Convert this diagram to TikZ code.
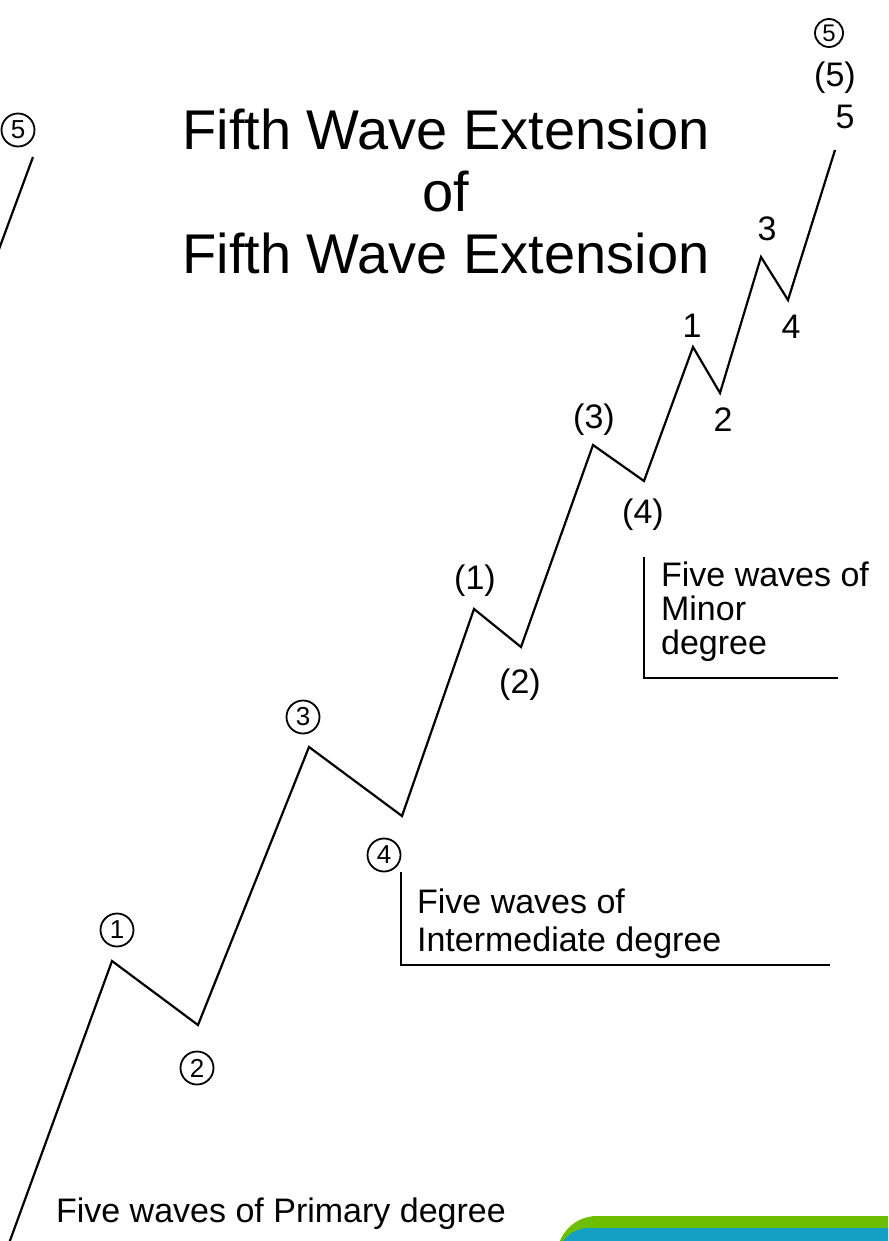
\documentclass[tikz,border=0pt]{standalone}
\usepackage{fontspec}
\setmainfont{Liberation Sans}
\usetikzlibrary{positioning}
\definecolor{bargreen}{HTML}{6EBE00}
\definecolor{barteal}{HTML}{14A0C4}

\begin{document}
\begin{tikzpicture}[x=0.5pt,y=-0.5pt,line width=1.1pt,
  lbl/.style={inner sep=0pt,font=\fontsize{17}{20}\selectfont},
  circ/.style={draw,circle,line width=0.9pt,inner sep=0pt,minimum size=16.5pt,
    font=\fontsize{13}{14}\selectfont},
  note/.style={inner sep=0pt,align=left,anchor=north west}]
  \useasboundingbox (0,0) rectangle (888,1241);
  \clip (0,0) rectangle (888,1241);
  % corner bar, bottom right
  \fill[bargreen,rounded corners=20pt] (557,1216) rectangle (960,1320);
  \fill[barteal,rounded corners=16pt] (557,1228) rectangle (960,1320);
  % title
  \node[align=center,inner sep=0pt,font=\fontsize{28}{31}\selectfont] (title) at (446,191)
    {Fifth Wave Extension\\of\\Fifth Wave Extension};
  % wave turning points
  \coordinate (w0) at (0,1268);
  \coordinate (w1) at (112,961);
  \coordinate (w2) at (198,1025);
  \coordinate (w3) at (309,747);
  \coordinate (w4) at (402,816);
  \coordinate (v1) at (474,609);
  \coordinate (v2) at (521,647);
  \coordinate (v3) at (593,445);
  \coordinate (v4) at (644,481);
  \coordinate (m1) at (693,347);
  \coordinate (m2) at (720,393);
  \coordinate (m3) at (761,257);
  \coordinate (m4) at (788,300);
  \coordinate (m5) at (835,150);
  \coordinate (p4) at (33,157);
  \coordinate (p3) at (-5,260);
  \draw[line join=miter] (w0) -- (w1) -- (w2) -- (w3) -- (w4) -- (v1) -- (v2) -- (v3)
    -- (v4) -- (m1) -- (m2) -- (m3) -- (m4) -- (m5);
  \draw (p3) -- (p4);
  % primary labels
  \node[circ] (ltop5) at (18,130) {5};
  \node[circ] (lw1) at (117,930) {1};
  \node[circ] (lw2) at (197,1068) {2};
  \node[circ] (lw3) at (303,717) {3};
  \node[circ] (lw4) at (384,855) {4};
  % intermediate labels
  \node[lbl] (lv1) at (475,581) {(1)};
  \node[lbl] (lv2) at (520,685) {(2)};
  \node[lbl] (lv3) at (594,420) {(3)};
  \node[lbl] (lv4) at (643,515) {(4)};
  % minor labels
  \node[lbl] (lm1) at (692,326) {1};
  \node[lbl] (lm2) at (723,420) {2};
  \node[lbl] (lm3) at (767,229) {3};
  \node[lbl] (lm4) at (791,327) {4};
  \node[lbl] (lm5) at (845,117) {5};
  \node[lbl] (lp5) at (835,78) {(5)};
  \node[circ,minimum size=14pt,font=\fontsize{12}{13}\selectfont] (lc5) at (829,33) {5};
  % degree notes
  \node[note,font=\fontsize{17}{17}\selectfont] (nminor) at (660,561)
    {Five waves of\\Minor\\degree};
  \coordinate (bm1) at (644,557);
  \coordinate (bm2) at (644,678);
  \coordinate (bm3) at (838,678);
  \draw (bm1) -- (bm2) -- (bm3);
  \node[note,font=\fontsize{17}{19}\selectfont] (ninter) at (416,888)
    {Five waves of\\Intermediate degree};
  \coordinate (bi2) at (401,965);
  \coordinate (bi3) at (830,965);
  \draw (lw4.south -| bi2) -- (bi2) -- (bi3);
  \node[lbl,anchor=base west] (nprim) at (55,1222) {Five waves of Primary degree};
\end{tikzpicture}
\end{document}
